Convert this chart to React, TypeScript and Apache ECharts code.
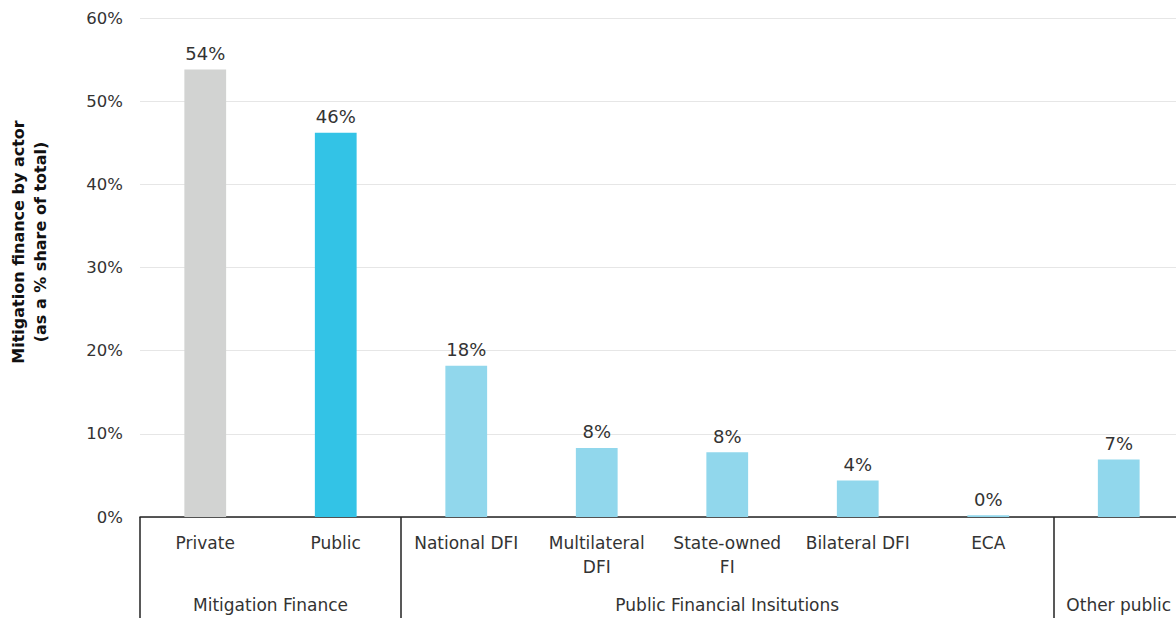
import React, { useEffect, useRef } from "react";
import * as echarts from "echarts";

// Share of mitigation finance by actor (% of total)
const categories = [
  "Private",
  "Public",
  "National DFI",
  "Multilateral\nDFI",
  "State-owned\nFI",
  "Bilateral DFI",
  "ECA",
  "",
];
const shares = [53.8, 46.2, 18.2, 8.3, 7.8, 4.4, 0.2, 6.9];
const barColors = [
  "#d2d3d2",
  "#33c3e6",
  "#91d7ec",
  "#91d7ec",
  "#91d7ec",
  "#91d7ec",
  "#91d7ec",
  "#91d7ec",
];

// Category groups: name, first index, count
const groupNames = ["Mitigation Finance", "Public Financial Insitutions", "Other public"];
const groupStarts = [0, 2, 7];
const groupSizes = [2, 5, 1];

const yTicks = [0, 10, 20, 30, 40, 50, 60];

const FONT = "'DejaVu Sans', 'Noto Sans', sans-serif";
const TEXT = "#333333";

export default function App() {
  const ref = useRef<HTMLDivElement>(null);

  useEffect(() => {
    if (!ref.current) return;
    const chart = echarts.init(ref.current, undefined, { renderer: "svg" });

    const groupCenters = groupStarts.map((s, i) => s + groupSizes[i] / 2);
    const groupEdges = groupStarts.slice();

    chart.setOption({
      animation: false,
      textStyle: { fontFamily: FONT },
      grid: { left: 140, right: 8, top: 18, bottom: 101, containLabel: false },
      xAxis: [
        {
          type: "category",
          data: categories,
          axisLine: { show: true, lineStyle: { color: "#222", width: 1.5 } },
          axisTick: { show: false },
          axisLabel: {
            interval: 0,
            color: TEXT,
            fontSize: 17,
            fontFamily: FONT,
            margin: 14,
            lineHeight: 24,
          },
        },
        {
          type: "value",
          min: 0,
          max: categories.length,
          position: "bottom",
          axisLine: { show: false },
          splitLine: { show: false },
          axisTick: {
            show: true,
            length: 101,
            customValues: groupEdges,
            lineStyle: { color: "#222", width: 1.5 },
          },
          axisLabel: {
            show: true,
            customValues: groupCenters,
            color: TEXT,
            fontSize: 17,
            fontFamily: FONT,
            margin: 79,
            formatter: (v: number) => {
              const i = groupCenters.indexOf(v);
              return i >= 0 ? groupNames[i] : "";
            },
          },
        },
      ],
      yAxis: {
        type: "value",
        min: yTicks[0],
        max: yTicks[yTicks.length - 1],
        interval: 10,
        axisLine: { show: false },
        axisTick: { show: false },
        splitLine: { lineStyle: { color: "#e6e6e6", width: 1 } },
        axisLabel: {
          color: TEXT,
          fontSize: 16.5,
          fontFamily: FONT,
          margin: 17,
          formatter: "{value}%",
        },
      },
      graphic: [
        {
          type: "text",
          x: 29,
          y: 242,
          rotation: Math.PI / 2,
          style: {
            text: "Mitigation finance by actor\n(as a % share of total)",
            fill: "#111",
            font: `bold 16px ${FONT}`,
            align: "center",
            verticalAlign: "middle",
            lineHeight: 22,
          },
        },
      ],
      series: [
        {
          type: "bar",
          xAxisIndex: 0,
          barWidth: "32%",
          data: shares.map((v, i) => ({ value: v, itemStyle: { color: barColors[i] } })),
          label: {
            show: true,
            position: "top",
            distance: 7,
            color: TEXT,
            fontSize: 18,
            fontFamily: FONT,
            formatter: (p: any) => `${Math.round(p.value)}%`,
          },
        },
      ],
    });

    return () => chart.dispose();
  }, []);

  // The plot runs a little past the right edge of the visible frame.
  return (
    <div style={{ position: "absolute", left: 0, top: 0, width: 1176, height: 618, overflow: "hidden", background: "#fff" }}
    >
      <div ref={ref} style={{ width: 1192, height: 618 }} />
    </div>
  );
}
